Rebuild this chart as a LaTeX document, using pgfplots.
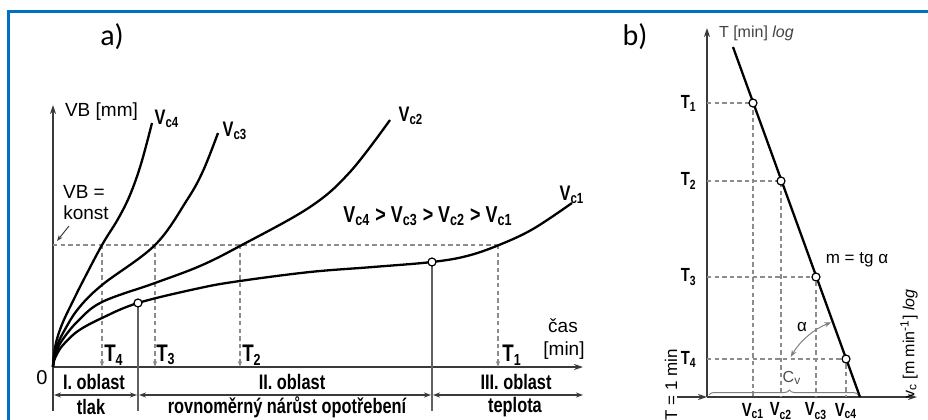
\documentclass[border=0pt]{standalone}
\usepackage{pgfplots}
\pgfplotsset{compat=1.18}
\usepackage{fontspec}
\setmainfont{Liberation Sans}
\newfontfamily\condf[FakeStretch=0.78]{Liberation Sans}
\newfontfamily\calib{Carlito}
\usetikzlibrary{arrows.meta,decorations.pathreplacing}
\definecolor{frameblue}{RGB}{0,112,192}
\definecolor{txt}{HTML}{222222}
\definecolor{dashc}{HTML}{8C8C8C}
\definecolor{axc}{HTML}{3A3A3A}
\newcommand\fr[1]{\fontsize{#1}{#1}\selectfont}
\newcommand\fc[1]{\condf\bfseries\fontsize{#1}{#1}\selectfont}
\newcommand\Vc[1]{V\textsubscript{c#1}}
\newcommand\Tt[1]{T\textsubscript{#1}}
\tikzset{
  curve/.style={black, line width=1.15pt, smooth, tension=0.6},
  dashl/.style={dashc, line width=0.55pt, dash pattern=on 2.2pt off 1.6pt},
  axl/.style={axc, line width=0.7pt},
  tipA/.style={-{Stealth[length=4.5pt,width=3pt]}},
  tipT/.style={-{Stealth[length=3pt,width=2.2pt]}},
  dbl/.style={{Stealth[length=3.5pt,width=2.5pt]}-{Stealth[length=3.5pt,width=2.5pt]}},
  circ/.style={only marks, mark=*, mark size=2pt, mark options={fill=white, draw=black, line width=0.6pt}}
}
\begin{document}
\begin{tikzpicture}[font=\color{txt}]
\path[use as bounding box] (0,0) rectangle (464pt,209.5pt);
\draw[frameblue, line width=1.5pt] (4pt,-2pt) -- (4pt,204pt) -- (466pt,204pt);
\node[font=\calib\fr{15}] at (56pt,191pt) {a)};
\node[font=\calib\fr{15}] at (317.5pt,191pt) {b)};

% ---------------- panel a ----------------
\begin{axis}[at={(26.5pt,26pt)}, anchor=south west, x=0.5pt, y=0.5pt,
  xmin=0, xmax=532, ymin=0, ymax=262, hide axis, clip=false, enlargelimits=false]
% axes
\addplot[axl, tipA] coordinates {(0,0) (0,262)};
\addplot[axl, tipA] coordinates {(0,0) (530,0)};
% VB = konst line and T lines
\addplot[dashl] coordinates {(0,122) (445,122)};
\addplot[dashl, tipT] coordinates {(49,122) (49,0)};
\addplot[dashl, tipT] coordinates {(102,122) (102,0)};
\addplot[dashl, tipT] coordinates {(187,122) (187,0)};
\addplot[dashl, tipT] coordinates {(445,122) (445,0)};
% region dividers
\addplot[axc, line width=0.6pt] coordinates {(0,0) (0,-44)};
\addplot[axc!80, line width=0.6pt] coordinates {(85,64) (85,-44)};
\addplot[axc!80, line width=0.6pt] coordinates {(379,105) (379,-44)};
\addplot[axc, line width=0.7pt, dbl] coordinates {(1,-28) (84,-28)};
\addplot[axc, line width=0.7pt, dbl] coordinates {(86,-28) (378,-28)};
\addplot[axc, line width=0.7pt, dbl] coordinates {(380,-28) (530,-28)};
% wear curves
\addplot[curve] coordinates {(0,0) (1,6) (4,13) (10,22) (25,36) (49,49) (85,64) (147,79) (187,86) (257,95) (320,100) (379,105) (414,111) (446,122) (480,138) (519,164)};
\addplot[curve] coordinates {(0,0) (1,8) (4,17) (10,28) (25,46) (49,65) (102,84) (147,101) (187,121) (257,160) (297,195) (337,247)};
\addplot[curve] coordinates {(0,0) (1,10) (4,21) (10,34) (25,58) (49,82) (102,122) (134,167) (150,196) (165,234)};
\addplot[curve] coordinates {(0,0) (1,13) (4,28) (10,45) (20,66) (30,86) (49,122) (65,148) (77,172) (88,203) (99,244)};
\addplot[circ] coordinates {(85,64) (379,105)};
% texts
\node[anchor=west, font=\fr{9.5}] at (axis cs:5,255) {VB [mm]};
\node[font=\fr{9.5}] at (axis cs:31,175) {VB =};
\node[font=\fr{9.5}] at (axis cs:33,154) {konst};
\draw[axc, line width=0.5pt, -{Stealth[length=3pt,width=2.2pt]}] (axis cs:16,141) -- (axis cs:4,126);
\node[font=\fc{10.5}] at (axis cs:114,248) {\Vc4};
\node[font=\fc{10.5}] at (axis cs:182,236) {\Vc3};
\node[font=\fc{10.5}] at (axis cs:358,251) {\Vc2};
\node[font=\fc{10.5}] at (axis cs:519,172) {\Vc1};
\node[font=\fc{11.5}] at (axis cs:375,151) {\Vc4\ > \Vc3\ > \Vc2\ > \Vc1};
\node[font=\fr{9.5}] at (axis cs:510,41) {čas};
\node[font=\fr{9.5}] at (axis cs:511,16) {[min]};
\node[font=\fc{12}] at (axis cs:61,12) {\Tt4};
\node[font=\fc{12}] at (axis cs:113,12) {\Tt3};
\node[font=\fc{12}] at (axis cs:199,12) {\Tt2};
\node[font=\fc{12}] at (axis cs:459,12) {\Tt1};
\node[font=\fr{10}] at (axis cs:-11,-11) {0};
\node[font=\fc{10.5}] at (axis cs:41,-15) {I. oblast};
\node[font=\fc{10.5}] at (axis cs:38,-40) {tlak};
\node[font=\fc{10.5}] at (axis cs:239,-15) {II. oblast};
\node[font=\fc{10.5}] at (axis cs:234,-40) {rovnoměrný nárůst opotřebení};
\node[font=\fc{10.5}] at (axis cs:463,-15) {III. oblast};
\node[font=\fc{10.5}] at (axis cs:462,-40) {teplota};
\end{axis}

% ---------------- panel b ----------------
\begin{axis}[at={(353.5pt,11pt)}, anchor=south west, x=0.5pt, y=0.5pt,
  xmin=0, xmax=210, ymin=0, ymax=369, hide axis, clip=false, enlargelimits=false]
\addplot[axl, tipA] coordinates {(0,0) (0,369)};
\addplot[axl, tipA] coordinates {(0,0) (210,0)};
\addplot[axl, tipA] coordinates {(-30,0) (0,0)};
% dashed guides
\addplot[dashl] coordinates {(0,294) (46,294) (46,0)};
\addplot[dashl] coordinates {(0,216) (74,216) (74,0)};
\addplot[dashl] coordinates {(0,120) (109,120) (109,0)};
\addplot[dashl] coordinates {(0,38) (139,38) (139,0)};
% Taylor line
\addplot[black, line width=1.15pt] coordinates {(26,350) (153,0)};
\addplot[circ] coordinates {(46,294) (74,216) (109,120) (139,38)};
% angle and brace
\draw[gray, line width=0.5pt, dbl] (axis cs:153,0) ++(111:40pt) arc[start angle=111, end angle=150, radius=40pt];
\draw[gray, line width=0.5pt, decorate, decoration={brace, amplitude=2.5pt, aspect=0.54}] (axis cs:2,2) -- (axis cs:151,2);
% texts
\node[anchor=west, font=\fr{8}, text=txt!85] at (axis cs:5,364) {T [min] \textit{log}};
\node[anchor=east, inner sep=0pt, font=\fc{9.5}] at (axis cs:-10,294) {\Tt1};
\node[anchor=east, inner sep=0pt, font=\fc{9.5}] at (axis cs:-10,216) {\Tt2};
\node[anchor=east, inner sep=0pt, font=\fc{9.5}] at (axis cs:-10,120) {\Tt3};
\node[anchor=east, inner sep=0pt, font=\fc{9.5}] at (axis cs:-10,38) {\Tt4};
\node[font=\fc{9.5}] at (axis cs:46,-14) {\Vc1};
\node[font=\fc{9.5}] at (axis cs:74,-14) {\Vc2};
\node[font=\fc{9.5}] at (axis cs:109,-14) {\Vc3};
\node[font=\fc{9.5}] at (axis cs:139,-14) {\Vc4};
\node[font=\fr{8.5}] at (axis cs:150,137) {m = tg α};
\node[font=\fr{8.5}] at (axis cs:95,70) {α};
\node[font=\fr{8}, text=txt!80] at (axis cs:85,19) {C\textsubscript{v}};
\node[font=\fr{8.5}, rotate=90] at (axis cs:-36,12) {T = 1 min};
\node[font=\fr{8}, rotate=90] at (axis cs:202,53) {v\textsubscript{c} [m min\textsuperscript{-1}] \textit{log}};
\end{axis}
\end{tikzpicture}
\end{document}
